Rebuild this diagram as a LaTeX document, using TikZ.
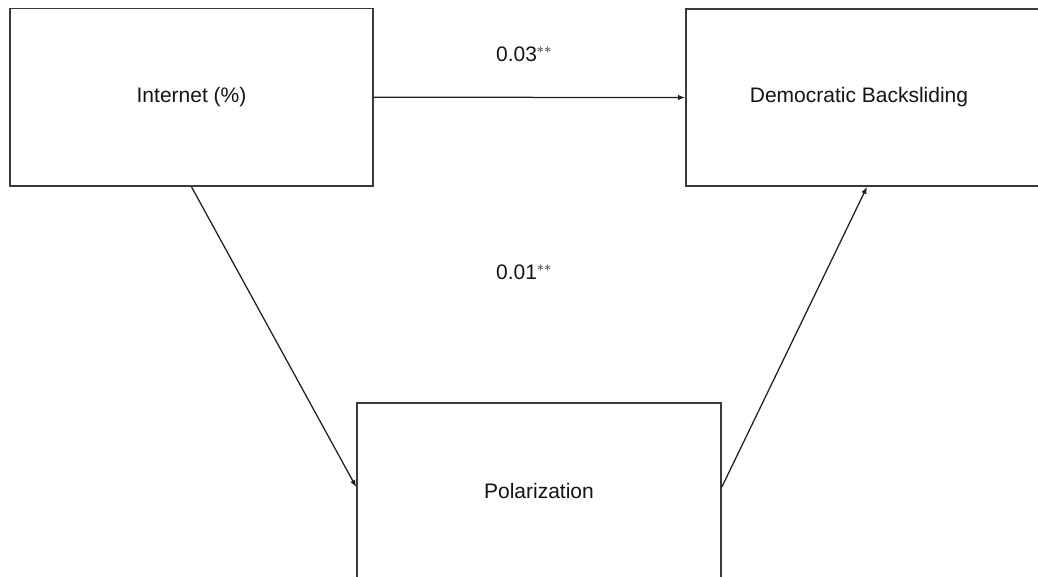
\documentclass[tikz,border=0pt]{standalone}
\usepackage{fontspec}
\setmainfont{Liberation Sans}
\usetikzlibrary{arrows.meta}
\definecolor{boxline}{HTML}{3A3A3A}
\definecolor{arrline}{HTML}{1E1E1E}
\tikzset{
  varbox/.style={draw=boxline, line width=1.7pt, fill=white, inner sep=0pt,
    font=\fontsize{21}{25}\selectfont, text=black!92},
  path/.style={draw=arrline, line width=1.25pt, -{Latex[length=7pt,width=5.5pt]}},
  coef/.style={font=\fontsize{21}{25}\selectfont, text=black!92, inner sep=0pt}
}
\begin{document}
\begin{tikzpicture}[x=1pt,y=1pt]
\useasboundingbox (0,0) rectangle (1038,-577);
\clip (0,0) rectangle (1038,-577);
\node[varbox, minimum width=363pt, minimum height=177.5pt] (A) at (191.5,-97.25) {Internet (\%)};
\node[varbox, minimum width=360pt, minimum height=177pt] (B) at (866,-97.5) {Democratic Backsliding\hspace*{14pt}};
\node[varbox, minimum width=364pt, minimum height=175pt] (C) at (539,-490.5) {Polarization};
\node[coef] (c1) at (524,-54) {0.03$^{**}$};
\node[coef] (c2) at (524,-272) {0.01$^{**}$};
\draw[path] (A.east) -- (B.west);
\draw[path] (A.south) -- ([yshift=3.5pt]C.west);
\draw[path] ([yshift=3.5pt]C.east) -- ([xshift=1pt]B.south);
\end{tikzpicture}
\end{document}
